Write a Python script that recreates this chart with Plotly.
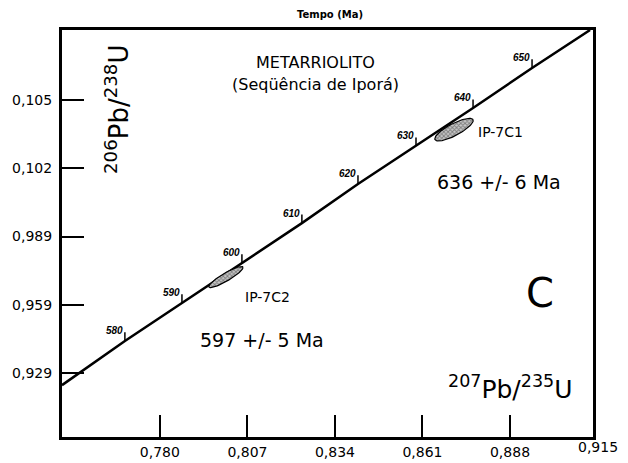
import numpy as np
import plotly.graph_objects as go

# Concordia curve points (207Pb/235U, 206Pb/238U)
conc_x = [0.7498, 0.7692, 0.7868, 0.8053, 0.8238, 0.8411, 0.8590, 0.8766, 0.8948, 0.9127]
conc_y = [0.09237, 0.09431, 0.09598, 0.09774, 0.09949, 0.10121, 0.10288, 0.10455, 0.10631, 0.10798]

# Age marks along the concordia (Ma)
ages = [580, 590, 600, 610, 620, 630, 640, 650]
age_x = [0.7692, 0.7868, 0.8053, 0.8238, 0.8411, 0.8590, 0.8766, 0.8948]
age_y = [0.09431, 0.09598, 0.09774, 0.09949, 0.10121, 0.10288, 0.10455, 0.10631]

# Error ellipses: name, centre, semi-major vector, semi-minor vector
ell_names = ["IP-7C2", "IP-7C1"]
ell_cx = [0.80037, 0.87072]
ell_cy = [0.09712, 0.10360]
ell_major = [(0.005245, 0.00044), (0.00586, 0.00044)]
ell_minor = [(0.00062, -0.00015), (0.00086, -0.000233)]

x_ticks = [0.780, 0.807, 0.834, 0.861, 0.888]
x_ticktext = ["0,780", "0,807", "0,834", "0,861", "0,888"]
y_ticks = [0.0929, 0.0959, 0.0989, 0.1019, 0.1049]
y_ticktext = ["0,929", "0,959", "0,989", "0,102", "0,105"]

FONT = "DejaVu Sans"
W, H = 628, 463
L, R, T, B = 62, 35, 30, 26

def pp(px, py):
    return (px - L) / (W - L - R), (H - B - py) / (H - T - B)

fig = go.Figure()

# concordia line
fig.add_trace(go.Scatter(x=conc_x, y=conc_y, mode="lines",
                         line=dict(color="black", width=2.5), hoverinfo="skip"))

# ellipses
t = np.linspace(0, 2 * np.pi, 80)
for cx, cy, (ax, ay), (bx, by) in zip(ell_cx, ell_cy, ell_major, ell_minor):
    ex = cx + ax * np.cos(t) + bx * np.sin(t)
    ey = cy + ay * np.cos(t) + by * np.sin(t)
    fig.add_trace(go.Scatter(x=ex, y=ey, mode="lines", fill="toself",
                             fillcolor="#8a8a8a",
                             fillpattern=dict(shape="x", size=3, solidity=0.5,
                                              fgcolor="#333333", bgcolor="#c8c8c8"),
                             line=dict(color="black", width=1.2), hoverinfo="skip"))

# age tick marks
tick_dy = 0.00038
tx, ty = [], []
for x, y in zip(age_x, age_y):
    tx += [x, x, None]
    ty += [y, y + tick_dy, None]
fig.add_trace(go.Scatter(x=tx, y=ty, mode="lines",
                         line=dict(color="black", width=1.5), hoverinfo="skip"))

annotations = []
for a, x, y in zip(ages, age_x, age_y):
    annotations.append(dict(x=x, y=y + tick_dy, xref="x", yref="y",
                            text=str(a),
                            showarrow=False, xanchor="right", yanchor="bottom",
                            xshift=0, yshift=-6,
                            font=dict(family="Liberation Sans", size=10, color="black",
                                      weight="bold", style="italic")))

def ann(px, py, text, size, angle=0, weight="normal"):
    x, y = pp(px, py)
    annotations.append(dict(x=x, y=y, xref="paper", yref="paper", text=text,
                            showarrow=False, xanchor="center", yanchor="middle",
                            textangle=angle,
                            font=dict(family=FONT, size=size, color="black", weight=weight)))

ann(330, 15, "Tempo (Ma)", 10, weight="bold")
ann(315, 63, "METARRIOLITO", 16)
ann(315, 84, "(Seqüência de Iporá)", 16)
ann(117, 110, "<sup>206</sup>Pb/<sup>238</sup>U", 26, -90)
ann(500, 132, "IP-7C1", 14)
ann(499, 182, "636 +/- 6 Ma", 19)
ann(267, 297, "IP-7C2", 14)
ann(262, 340, "597 +/- 5 Ma", 19)
ann(540, 293, "C", 40)
ann(510, 387, "<sup>207</sup>Pb/<sup>235</sup>U", 25)
ann(598, 447, "0,915", 14)

fig.update_layout(
    width=W, height=H,
    margin=dict(l=L, r=R, t=T, b=B, pad=0, autoexpand=False),
    plot_bgcolor="white", paper_bgcolor="white",
    showlegend=False,
    annotations=annotations,
    font=dict(family=FONT, color="black"),
)
fig.update_xaxes(range=[0.7498, 0.9136], tickvals=x_ticks, ticktext=x_ticktext,
                 showline=True, linecolor="black", linewidth=3, mirror=True,
                 ticks="inside", ticklen=22, tickwidth=2, tickcolor="black",
                 showgrid=False, zeroline=False, ticklabelstandoff=0, automargin=False,
                 tickfont=dict(family=FONT, size=14, color="black"))
fig.update_yaxes(range=[0.09009, 0.10798], tickvals=y_ticks, ticktext=y_ticktext,
                 showline=True, linecolor="black", linewidth=3, mirror=True,
                 ticks="inside", ticklen=22, tickwidth=2, tickcolor="black",
                 showgrid=False, zeroline=False, ticklabelstandoff=4, automargin=False,
                 tickfont=dict(family=FONT, size=14, color="black"))

fig.write_html("out.html")
